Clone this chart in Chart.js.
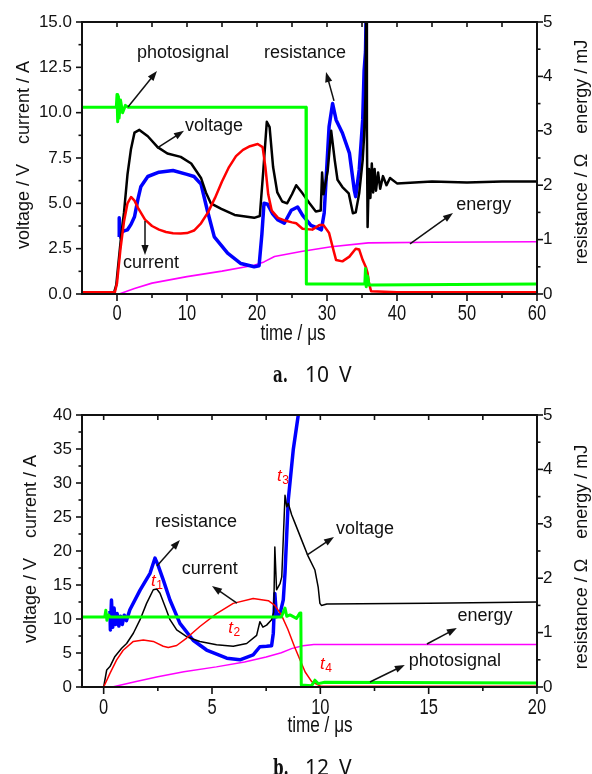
<!DOCTYPE html>
<html>
<head>
<meta charset="utf-8">
<title>Discharge waveforms at 10 V and 12 V</title>
<script src="https://cdn.jsdelivr.net/npm/chart.js@4.4.1/dist/chart.umd.min.js"></script>
<style>
  html, body { margin: 0; padding: 0; background: #fff; }
  body { width: 592px; height: 774px; position: relative; overflow: hidden; }
  canvas { position: absolute; left: 0; }
  #chartA { top: 0; }
  #chartB { top: 390px; }
</style>
</head>
<body>
<canvas id="chartA" width="592" height="390"></canvas>
<canvas id="chartB" width="592" height="384"></canvas>
<script>
// ---------- 10 V discharge: [time in µs, value] ----------
const aVoltage = [[-5,0.1],[-0.4,0.1],[-0.1,0.5],[0.1,1.3],[0.6,3.2],[1.0,4.5],[1.5,6.6],[2.0,8.0],[2.5,8.9],[3.2,9.05],
  [4.4,8.7],[5.8,8.1],[7.2,7.75],[9.1,7.56],[10.6,7.2],[12.0,6.4],[12.7,5.6],[13.4,5.0],[14.9,4.7],[16.8,4.36],
  [19.6,4.2],[20.4,4.3],[20.9,6.8],[21.4,9.5],[21.8,9.2],[22.3,7.0],[22.9,5.6],[23.6,5.1],[24.3,5.0],[25.0,5.5],
  [25.6,6.0],[26.5,5.55],[27.5,5.0],[28.4,4.55],[29.1,4.6],[29.3,6.7],[29.5,5.5],[30.1,6.8],[30.6,9.0],[31.1,7.4],
  [31.5,6.3],[32.2,5.9],[33.1,5.55],[33.7,4.45],[34.1,4.5],[34.6,5.55],[35.1,7.4],[35.3,8.7],[35.5,11.0],[35.6,16.0],
  [35.7,9.0],[35.8,3.7],[36.0,6.9],[36.2,5.3],[36.4,7.2],[36.6,5.6],[36.8,6.9],[37.0,5.7],[37.3,6.7],[37.6,5.8],
  [38.0,6.5],[38.5,6.0],[39.0,6.4],[40,6.1],[45,6.2],[50,6.15],[55,6.2],[60,6.2]];
const aCurrent = [[-5,0.1],[-0.3,0.1],[0,0.6],[0.5,2.5],[1.0,4.0],[1.5,5.0],[2.0,5.35],[2.5,5.15],[3.0,4.75],[4.0,4.1],
  [5.0,3.75],[6.0,3.55],[7.0,3.42],[8.0,3.35],[9.1,3.33],[10,3.36],[11,3.5],[12,3.9],[13,4.5],[14,5.3],
  [15,6.2],[16,7.0],[17,7.6],[18,7.95],[19,8.15],[20.1,8.27],[20.8,8.1],[21.2,7.0],[21.6,5.5],[22.1,4.6],
  [23,4.2],[24,4.05],[25,3.95],[25.6,3.9],[26.5,3.6],[27.9,3.55],[28.9,3.8],[29.5,3.8],[30.3,3.36],[30.8,2.6],
  [31.3,1.87],[32.2,1.8],[33.2,2.06],[34.1,2.5],[34.6,2.45],[35.1,1.87],[35.6,1.43],[35.8,1.15],[36.0,0.6],[36.3,0.15],
  [40,0.1],[60,0.1]];
const aResistance = [[0.3,1.05],[0.32,1.4],[0.45,1.12],[1.0,1.16],[1.5,1.18],[2.0,1.28],[2.5,1.42],[3.0,1.75],[3.4,1.97],[4.4,2.16],
  [6,2.24],[8,2.27],[10,2.2],[11,2.16],[12,2.02],[12.9,1.54],[13.9,1.05],[15.8,0.75],[17.7,0.56],[19.6,0.5],
  [20.3,0.52],[20.7,1.1],[21.0,1.67],[21.5,1.65],[22.2,1.48],[23.0,1.36],[23.9,1.3],[24.9,1.54],[25.8,1.6],[26.5,1.45],
  [27.7,1.26],[28.7,1.21],[29.2,1.18],[29.6,1.49],[30.3,3.08],[30.8,3.5],[31.3,3.2],[32.2,2.96],[33.2,2.59],[33.9,1.91],
  [34.1,1.79],[34.6,2.28],[35.1,3.2],[35.3,4.1],[35.5,4.45],[35.65,5.6]];
const aEnergy = [[-5,0],[0.3,0],[2.5,0.1],[5,0.2],[10,0.32],[15,0.42],[19.6,0.53],[21,0.59],[22.5,0.69],[26.3,0.78],
  [30.6,0.87],[35.9,0.94],[45,0.95],[60,0.96]];
const aPhoto = [[-5,10.3],[-0.1,10.3],[0.0,11.0],[0.1,9.5],[0.2,10.9],[0.3,9.7],[0.5,10.7],[0.8,10.0],[1.2,10.4],[1.6,10.3],
  [27.0,10.3],[27.05,0.55],[35.4,0.55],[35.5,1.4],[35.6,0.4],[35.8,1.0],[36.0,0.5],[60,0.55]];

// ---------- 12 V discharge ----------
const bVoltage = [[-1,0],[0,0],[0.14,2.5],[0.29,3.0],[0.52,4.5],[0.83,5.7],[1.06,6.4],[1.37,7.9],[1.68,9.9],[1.98,12.3],
  [2.29,14.3],[2.45,14.4],[2.6,13.8],[2.9,11.3],[3.06,9.9],[3.37,8.4],[3.83,7.4],[4.44,6.7],[5.21,6.2],[5.98,6.0],
  [6.6,6.4],[7.06,7.6],[7.21,9.6],[7.35,8.8],[7.52,9.1],[7.75,9.9],[7.85,11],[7.9,20.6],[7.98,14.3],[8.14,15.2],
  [8.22,16.2],[8.37,28.2],[8.45,26.5],[8.52,27.0],[8.68,25.3],[8.83,24.1],[9.14,21.6],[9.44,19.2],[9.75,17.2],[9.9,14.7],
  [9.98,12.3],[10.05,12.0],[10.3,12.2],[15,12.3],[20,12.5]];
const bCurrent = [[-1,0],[0,0],[0.29,2.0],[0.6,4.0],[0.9,5.4],[1.37,6.7],[1.83,6.9],[2.29,6.7],[2.75,6.0],[2.98,5.8],
  [3.37,6.1],[3.83,7.2],[4.44,8.9],[5.21,10.8],[5.98,12.3],[6.9,13.0],[7.6,12.7],[7.9,12.0],[8.2,10.6],[8.5,8.5],
  [8.8,6.0],[9.06,4.0],[9.3,2.2],[9.6,0.8],[10.0,0.15],[20,0.1]];
const bResistance = [[0.29,1.4],[0.31,1.05],[0.36,1.6],[0.42,1.1],[0.48,1.45],[0.55,1.15],[0.62,1.35],[0.7,1.12],[0.78,1.3],[0.86,1.15],
  [0.95,1.32],[1.05,1.22],[1.21,1.42],[1.68,1.78],[2.14,2.09],[2.37,2.37],[2.5,2.25],[2.75,1.97],[3.06,1.6],[3.52,1.17],
  [4.13,0.86],[4.75,0.68],[5.68,0.53],[6.29,0.5],[6.9,0.59],[7.21,0.74],[7.52,0.75],[7.75,0.76],[7.83,0.99],[7.9,1.72],
  [7.98,1.29],[8.14,1.35],[8.29,1.6],[8.37,2.1],[8.52,3.44],[8.75,4.36],[9.0,5.05]];
const bEnergy = [[-1,0],[0.4,0],[1.5,0.1],[2.5,0.19],[3.7,0.28],[5.2,0.37],[6.5,0.46],[7.5,0.55],[8.2,0.63],[8.7,0.71],
  [9.2,0.76],[9.7,0.78],[10.5,0.78],[20,0.78]];
const bPhoto = [[-1,10.3],[0.05,10.3],[0.1,11.3],[0.15,9.8],[0.22,10.6],[0.3,10.3],[8.2,10.3],[8.37,11.6],[8.45,10.4],[8.6,10.6],
  [8.9,10.1],[9.06,10.9],[9.1,10.9],[9.12,0.3],[9.6,0.2],[9.75,1.0],[9.9,0.5],[10.2,0.7],[20,0.6]];

// ---------- tick labels ----------
const aTimeTicks = [0, 10, 20, 30, 40, 50, 60];
const aTimeMinor = [5, 15, 25, 35, 45, 55];
const aTimeTop = [0, 5, 10, 15, 20, 25, 30, 35, 40, 45, 50, 55];
const aLeftTicks = [0, 2.5, 5, 7.5, 10, 12.5, 15];
const aLeftMinor = [1.25, 3.75, 6.25, 8.75, 11.25, 13.75];
const bTimeTicks = [0, 5, 10, 15, 20];
const bTimeMinor = [2.5, 7.5, 12.5, 17.5];
const bTimeTop = [0, 2.5, 5, 7.5, 10, 12.5, 15, 17.5];
const bLeftTicks = [0, 5, 10, 15, 20, 25, 30, 35, 40];
const bLeftMinor = [2.5, 7.5, 12.5, 17.5, 22.5, 27.5, 32.5, 37.5];
const rightTicks = [0, 1, 2, 3, 4, 5];
const rightMinor = [0.5, 1.5, 2.5, 3.5, 4.5];

// ---------- callouts (time, left-axis value) ----------
const aNotes = [
  { text: 'photosignal', x: 9.43, y: 13.3 },
  { text: 'voltage', x: 13.86, y: 9.27 },
  { text: 'resistance', x: 26.86, y: 13.3 },
  { text: 'current', x: 4.86, y: 1.71 },
  { text: 'energy', x: 52.4, y: 4.9 }
];
const aArrows = [[1.57, 10.31, 5.71, 12.3], [5.71, 8.05, 9.57, 9.0], [31.0, 10.65, 29.86, 12.24],
  [4.0, 4.03, 4.0, 2.15], [41.86, 2.76, 48, 4.47]];
const bNotes = [
  { text: 'resistance', x: 4.26, y: 24.26 },
  { text: 'current', x: 4.9, y: 17.35 },
  { text: 'voltage', x: 12.06, y: 23.2 },
  { text: 'energy', x: 17.6, y: 10.44 },
  { text: 'photosignal', x: 16.21, y: 3.82 }
];
const bArrows = [[2.46, 17.79, 3.52, 21.62], [6.15, 12.35, 5.0, 14.85], [9.38, 19.41, 10.63, 22.06],
  [14.92, 6.32, 16.3, 8.68], [12.29, 0.74, 13.9, 3.24]];
const bMarks = [
  { sub: '1', x: 2.46, y: 15.74 },
  { sub: '2', x: 6.02, y: 8.82 },
  { sub: '3', x: 8.27, y: 31.18 },
  { sub: '4', x: 10.26, y: 3.53 }
];

const FONT = '"Liberation Sans", Arial, sans-serif';
const INK = '#111';

function series(pairs) { return pairs.map(p => ({ x: p[0], y: p[1] })); }

function trace(label, pairs, color, width, axis, order) {
  return {
    label, data: series(pairs), borderColor: color, backgroundColor: color,
    borderWidth: width, yAxisID: axis, order,
    pointRadius: 0, pointHoverRadius: 0, tension: 0, fill: false,
    borderJoinStyle: 'round', borderCapStyle: 'butt'
  };
}

function arrow(ctx, x1, y1, x2, y2) {
  const ang = Math.atan2(y2 - y1, x2 - x1), L = 10, W = 3.6;
  const c = Math.cos(ang), s = Math.sin(ang);
  ctx.beginPath();
  ctx.moveTo(x1, y1);
  ctx.lineTo(x2 - L * 0.7 * c, y2 - L * 0.7 * s);
  ctx.stroke();
  ctx.beginPath();
  ctx.moveTo(x2, y2);
  ctx.lineTo(x2 - L * c + W * s, y2 - L * s - W * c);
  ctx.lineTo(x2 - L * c - W * s, y2 - L * s + W * c);
  ctx.closePath();
  ctx.fill();
}

// frame, tick marks, axis titles, callouts and panel caption
function decor(cfg) {
  return {
    id: 'decor',
    afterDraw(chart) {
      const { ctx, chartArea: a } = chart;
      const sx = chart.scales.x, sy = chart.scales.y, sr = chart.scales.yRight;
      const X = v => sx.getPixelForValue(v), Y = v => sy.getPixelForValue(v), R = v => sr.getPixelForValue(v);
      const seg = (x1, y1, x2, y2) => { ctx.beginPath(); ctx.moveTo(x1, y1); ctx.lineTo(x2, y2); ctx.stroke(); };
      ctx.save();
      ctx.strokeStyle = INK; ctx.fillStyle = INK; ctx.lineWidth = 1.6;
      cfg.xMajor.forEach(v => seg(X(v), a.bottom, X(v), a.bottom + 7));
      cfg.xMinor.forEach(v => seg(X(v), a.bottom, X(v), a.bottom + 4));
      cfg.xTop.forEach(v => seg(X(v), a.top, X(v), a.top + 5));
      cfg.yMajor.forEach(v => seg(a.left - 6, Y(v), a.left, Y(v)));
      cfg.yMinor.forEach(v => seg(a.left - 3.5, Y(v), a.left, Y(v)));
      rightTicks.forEach(v => seg(a.right, R(v), a.right + 6, R(v)));
      rightMinor.forEach(v => seg(a.right, R(v), a.right + 3.5, R(v)));
      ctx.lineWidth = 2;
      ctx.strokeRect(a.left, a.top, a.right - a.left, a.bottom - a.top);

      // condensed time labels and title
      ctx.font = '22px ' + FONT;
      ctx.textAlign = 'center'; ctx.textBaseline = 'alphabetic';
      cfg.xMajor.forEach(v => {
        ctx.save(); ctx.translate(X(v), a.bottom + cfg.xLabelDrop); ctx.scale(0.75, 1);
        ctx.fillText(String(v), 0, 0); ctx.restore();
      });
      ctx.save(); ctx.translate(cfg.xTitle[0], cfg.xTitle[1]); ctx.scale(0.78, 1);
      ctx.fillText('time / μs', 0, 0); ctx.restore();

      // vertical titles
      ctx.font = '18px ' + FONT; ctx.textBaseline = 'middle';
      ctx.save(); ctx.translate(cfg.leftTitle[0], cfg.leftTitle[1]); ctx.rotate(-Math.PI / 2);
      ctx.fillText('voltage / V    current / A', 0, 0); ctx.restore();
      ctx.save(); ctx.translate(cfg.rightTitle[0], cfg.rightTitle[1]); ctx.rotate(-Math.PI / 2);
      ctx.fillText('resistance / Ω    energy / mJ', 0, 0); ctx.restore();

      // callouts
      ctx.font = '18px ' + FONT;
      cfg.notes.forEach(n => ctx.fillText(n.text, X(n.x), Y(n.y)));
      ctx.lineWidth = 1.5;
      cfg.arrows.forEach(p => arrow(ctx, X(p[0]), Y(p[1]), X(p[2]), Y(p[3])));

      // red time markers
      ctx.fillStyle = '#ff0000'; ctx.textAlign = 'left'; ctx.textBaseline = 'alphabetic';
      (cfg.marks || []).forEach(m => {
        ctx.font = 'italic 17px ' + FONT;
        const w = ctx.measureText('t').width;
        const x0 = X(m.x) - (w + 7) / 2, y0 = Y(m.y) + 6;
        ctx.fillText('t', x0, y0);
        ctx.font = '12px ' + FONT;
        ctx.fillText(m.sub, x0 + w + 0.5, y0 + 3);
      });

      // panel caption
      ctx.fillStyle = '#111';
      ctx.save(); ctx.translate(273, cfg.captionY); ctx.scale(0.72, 1.1);
      ctx.font = 'bold 21px "DejaVu Serif", serif';
      ctx.fillText(cfg.caption[0], 0, 0); ctx.restore();
      ctx.font = '21px "Noto Sans", sans-serif';
      ctx.fillText(cfg.caption[1], 305, cfg.captionY);
      ctx.fillText(cfg.caption[2], 339, cfg.captionY);
      ctx.restore();
    }
  };
}

function build(id, cfg) {
  const quiet = { display: false, drawTicks: false };
  return new Chart(document.getElementById(id), {
    type: 'line',
    data: { datasets: cfg.datasets },
    options: {
      responsive: false, animation: false, devicePixelRatio: 1, events: [],
      layout: { padding: { top: cfg.padTop, left: 0, right: 0, bottom: 0 } },
      plugins: { legend: { display: false }, tooltip: { enabled: false } },
      scales: {
        x: {
          type: 'linear', axis: 'x', position: 'bottom', min: cfg.xMin, max: cfg.xMax,
          grid: quiet, border: { display: false }, ticks: { display: false },
          afterFit: s => { s.height = cfg.xHeight; }
        },
        y: {
          type: 'linear', axis: 'y', position: 'left', min: 0, max: cfg.yMax,
          grid: quiet, border: { display: false },
          ticks: { font: { family: FONT, size: 17 }, color: INK, padding: 10, callback: cfg.yFmt },
          afterBuildTicks: s => { s.ticks = cfg.yMajor.map(v => ({ value: v })); },
          afterFit: s => { s.width = 82; }
        },
        yRight: {
          type: 'linear', axis: 'y', position: 'right', min: 0, max: 5,
          grid: quiet, border: { display: false },
          ticks: { font: { family: FONT, size: 17 }, color: INK, padding: 6, callback: v => String(v) },
          afterBuildTicks: s => { s.ticks = rightTicks.map(v => ({ value: v })); },
          afterFit: s => { s.width = 55; }
        }
      }
    },
    plugins: [decor(cfg)]
  });
}

build('chartA', {
  datasets: [
    trace('photosignal', aPhoto, '#00ff00', 3, 'y', 0),
    trace('current', aCurrent, '#ff0000', 2.5, 'y', 1),
    trace('voltage', aVoltage, '#000000', 2.5, 'y', 2),
    trace('resistance', aResistance, '#0000ff', 3.5, 'yRight', 3),
    trace('energy', aEnergy, '#ff00ff', 1.6, 'yRight', 4)
  ],
  padTop: 22, xMin: -5, xMax: 60, xHeight: 96, yMax: 15,
  yFmt: v => Number(v).toFixed(1),
  xMajor: aTimeTicks, xMinor: aTimeMinor, xTop: aTimeTop,
  yMajor: aLeftTicks, yMinor: aLeftMinor,
  xLabelDrop: 26, xTitle: [293, 340], leftTitle: [24, 155], rightTitle: [582, 152],
  notes: aNotes, arrows: aArrows,
  caption: ['a.', '10', 'V'], captionY: 382
});

build('chartB', {
  datasets: [
    trace('photosignal', bPhoto, '#00ff00', 3, 'y', 0),
    trace('current', bCurrent, '#ff0000', 1.5, 'y', 1),
    trace('voltage', bVoltage, '#000000', 1.5, 'y', 2),
    trace('resistance', bResistance, '#0000ff', 3.5, 'yRight', 3),
    trace('energy', bEnergy, '#ff00ff', 1.5, 'yRight', 4)
  ],
  padTop: 25, xMin: -1, xMax: 20, xHeight: 87, yMax: 40,
  yFmt: v => String(v),
  xMajor: bTimeTicks, xMinor: bTimeMinor, xTop: bTimeTop,
  yMajor: bLeftTicks, yMinor: bLeftMinor,
  xLabelDrop: 27, xTitle: [320, 342], leftTitle: [31, 159], rightTitle: [582, 167],
  notes: bNotes, arrows: bArrows, marks: bMarks,
  caption: ['b.', '12', 'V'], captionY: 385
});
</script>
</body>
</html>
